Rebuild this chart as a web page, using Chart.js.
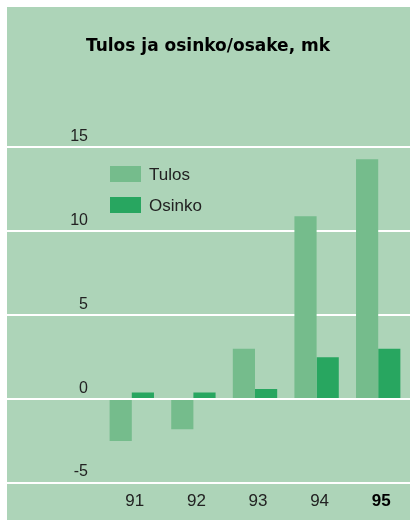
<!DOCTYPE html>
<html>
<head>
<meta charset="utf-8">
<script src="https://cdn.jsdelivr.net/npm/chart.js@4"></script>
<style>
  html, body { margin: 0; padding: 0; background: #fff; }
  #wrap { width: 411px; height: 520px; }
</style>
</head>
<body>
<div id="wrap"><canvas id="myChart" width="411" height="520"></canvas></div>
<script>
// chart values
var years = ["91", "92", "93", "94", "95"];
var tulos = [-2.5, -1.8, 3.0, 10.9, 14.3];
var osinko = [0.4, 0.4, 0.6, 2.5, 3.0];
var yTicks = [-5, 0, 5, 10, 15];

var panelColor = "#add4b8";
var tulosColor = "#75bc8c";
var osinkoColor = "#28a660";

// green panel behind everything
var panelPlugin = {
  id: "panel",
  beforeDraw: function(chart) {
    var ctx = chart.ctx;
    ctx.save();
    ctx.fillStyle = "#ffffff";
    ctx.fillRect(0, 0, chart.width, chart.height);
    ctx.fillStyle = panelColor;
    ctx.fillRect(7, 7, 403, chart.height - 7);
    ctx.restore();
  }
};

// white lines across the whole panel, bars are drawn over them
function drawLine(chart, v) {
  var ctx = chart.ctx;
  var y = chart.scales.y.getPixelForValue(v);
  ctx.fillStyle = "#ffffff";
  ctx.fillRect(7, Math.round(y) - 1, 403, 2);
}

var linesPlugin = {
  id: "lines",
  beforeDatasetsDraw: function(chart) {
    chart.ctx.save();
    yTicks.forEach(function(v) {
      if (v !== 0) drawLine(chart, v);
    });
    chart.ctx.restore();
  },
  afterDatasetsDraw: function(chart) {
    chart.ctx.save();
    drawLine(chart, 0);
    chart.ctx.restore();
  }
};

// legend inside the plot, stacked
var legendPlugin = {
  id: "boxLegend",
  afterDraw: function(chart) {
    var ctx = chart.ctx;
    ctx.save();
    ctx.font = "17px 'Liberation Sans', Arial, sans-serif";
    ctx.textBaseline = "middle";
    chart.data.datasets.forEach(function(ds, i) {
      var top = 166 + i * 31;
      ctx.fillStyle = ds.backgroundColor;
      ctx.fillRect(110, top, 31, 16);
      ctx.fillStyle = "#222222";
      ctx.fillText(ds.label, 149, top + 9);
    });
    ctx.restore();
  }
};

new Chart(document.getElementById("myChart"), {
  type: "bar",
  data: {
    labels: years,
    datasets: [
      {
        label: "Tulos",
        data: tulos,
        backgroundColor: tulosColor,
        categoryPercentage: 0.72,
        barPercentage: 1.0
      },
      {
        label: "Osinko",
        data: osinko,
        backgroundColor: osinkoColor,
        categoryPercentage: 0.72,
        barPercentage: 1.0
      }
    ]
  },
  options: {
    responsive: false,
    animation: false,
    layout: { padding: { left: 7, right: 2, top: 7, bottom: 0 } },
    plugins: {
      legend: { display: false },
      tooltip: { enabled: false },
      title: {
        display: true,
        text: "Tulos ja osinko/osake, mk",
        color: "#000000",
        font: { family: "'DejaVu Sans', sans-serif", size: 17, weight: "bold", lineHeight: 1.2 },
        padding: { top: 29, bottom: 91 }
      }
    },
    scales: {
      x: {
        grid: { display: false, drawTicks: false },
        border: { display: false },
        ticks: {
          padding: 8,
          labelOffset: 3,
          color: function(c) { return c.index === 4 ? "#000000" : "#222222"; },
          font: function(c) {
            return {
              family: "'Liberation Sans', Arial, sans-serif",
              size: 17,
              weight: c.index === 4 ? "bold" : "normal"
            };
          }
        },
        afterFit: function(scale) { scale.height = 37; }
      },
      y: {
        min: -5,
        max: 15,
        grid: { display: false, drawTicks: false },
        border: { display: false },
        ticks: {
          stepSize: 5,
          padding: 13,
          labelOffset: -11,
          color: "#222222",
          font: { family: "'Liberation Sans', Arial, sans-serif", size: 16 }
        },
        afterFit: function(scale) { scale.width = 94; }
      }
    }
  },
  plugins: [panelPlugin, linesPlugin, legendPlugin]
});
</script>
</body>
</html>
